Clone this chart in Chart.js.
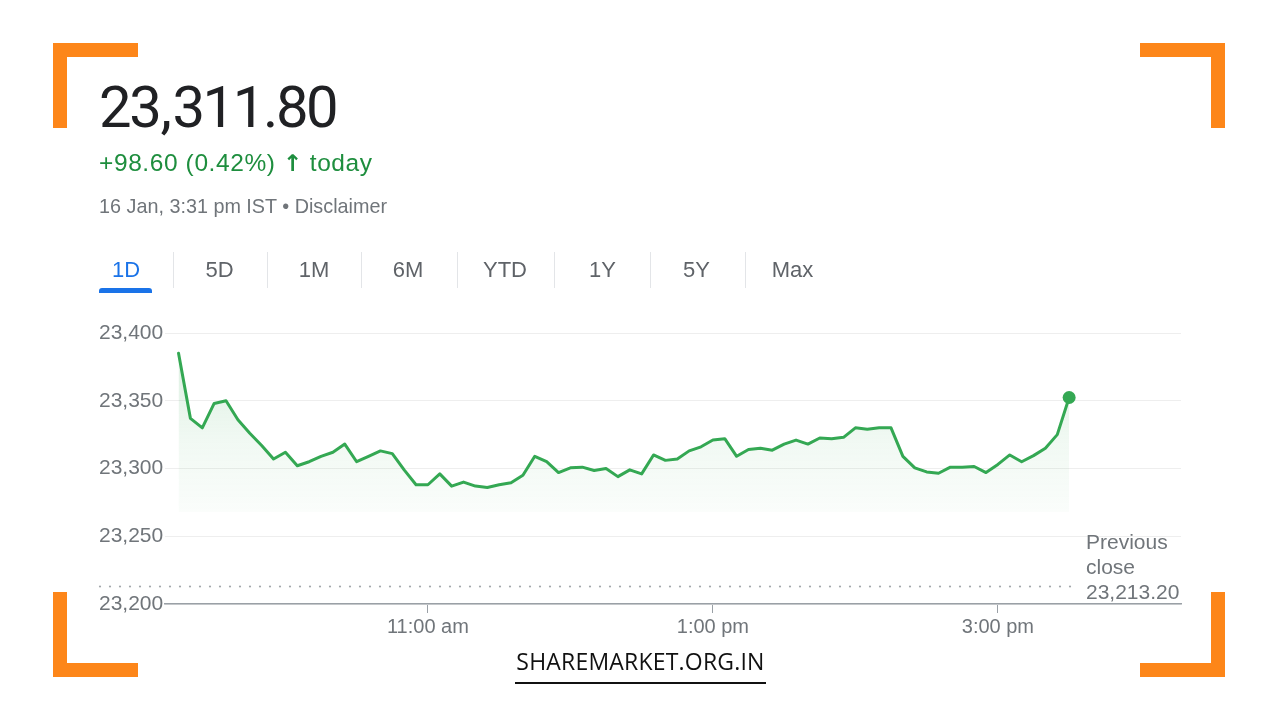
<!DOCTYPE html>
<html>
<head>
<meta charset="utf-8">
<script src="https://cdn.jsdelivr.net/npm/chart.js@4.4.1/dist/chart.umd.min.js"></script>
<style>
  html, body { margin:0; padding:0; background:#ffffff; }
  body { width:1280px; height:720px; position:relative; overflow:hidden; font-family:"Liberation Sans", Arial, sans-serif; }
  #chart { position:absolute; left:0; top:0; width:1280px; height:720px; }
  .t { position:absolute; white-space:nowrap; line-height:1; }
  .br { position:absolute; background:#fd8619; }
  .tab { position:absolute; width:80px; text-align:center; font-size:22px; color:#5f6368; line-height:1; top:259px; }
  .sep { position:absolute; top:252px; width:1px; height:36px; background:#e3e5e8; }
</style>
</head>
<body>
<canvas id="chart" width="1280" height="720"></canvas>

<!-- orange corner brackets -->
<div class="br" style="left:53px;top:43px;width:85px;height:14px"></div>
<div class="br" style="left:53px;top:43px;width:14px;height:85px"></div>
<div class="br" style="left:1140px;top:43px;width:85px;height:14px"></div>
<div class="br" style="left:1211px;top:43px;width:14px;height:85px"></div>
<div class="br" style="left:53px;top:592px;width:14px;height:85px"></div>
<div class="br" style="left:53px;top:663px;width:85px;height:14px"></div>
<div class="br" style="left:1211px;top:592px;width:14px;height:85px"></div>
<div class="br" style="left:1140px;top:663px;width:85px;height:14px"></div>

<!-- header -->
<div class="t" id="price" style="left:99px;top:78px;font-family:Roboto, sans-serif;font-size:58px;letter-spacing:-2.4px;color:#202124"></div>
<div class="t" id="change" style="left:99px;top:151px;font-size:24.5px;letter-spacing:0.6px;color:#1e8e3e"></div>
<div class="t" id="stamp" style="left:99px;top:197px;font-size:19.8px;color:#70757a"></div>

<!-- range tabs -->
<div id="tabs"></div>
<div style="position:absolute;left:99px;top:288px;width:53px;height:5px;background:#1a73e8;border-radius:3px 3px 0 0"></div>

<!-- previous close -->
<div class="t" id="prev" style="left:1086px;top:529px;font-size:21px;line-height:25px;color:#70757a"></div>

<!-- watermark -->
<div class="t" id="wm" style="left:440px;width:401px;text-align:center;top:650px;font-family:'Open Sans', sans-serif;font-size:23px;letter-spacing:0.2px;color:#111"></div>
<div style="position:absolute;left:515px;top:682px;width:251px;height:2px;background:#111"></div>

<script>
// ---------- data ----------
const HEADER_PRICE = "23,311.80";
const HEADER_CHANGE = "+98.60 (0.42%)";
const HEADER_ARROW = "\u2191";
const HEADER_TODAY = "today";
const HEADER_STAMP = "16 Jan, 3:31 pm IST \u2022 Disclaimer";
const TAB_LABELS = ["1D", "5D", "1M", "6M", "YTD", "1Y", "5Y", "Max"];
const TAB_CENTERS = [126, 219.5, 314, 408, 505, 602.5, 696.5, 792.5];
const PREV_CLOSE = 23213.20;
const PREV_CLOSE_TEXT = ["Previous", "close", "23,213.20"];
const WATERMARK = "SHAREMARKET.ORG.IN";

const TIMES = [
  "09:15","09:20","09:25","09:30","09:35","09:40","09:45","09:50","09:55",
  "10:00","10:05","10:10","10:15","10:20","10:25","10:30","10:35","10:40","10:45","10:50","10:55",
  "11:00","11:05","11:10","11:15","11:20","11:25","11:30","11:35","11:40","11:45","11:50","11:55",
  "12:00","12:05","12:10","12:15","12:20","12:25","12:30","12:35","12:40","12:45","12:50","12:55",
  "13:00","13:05","13:10","13:15","13:20","13:25","13:30","13:35","13:40","13:45","13:50","13:55",
  "14:00","14:05","14:10","14:15","14:20","14:25","14:30","14:35","14:40","14:45","14:50","14:55",
  "15:00","15:05","15:10","15:15","15:20","15:25","15:30"
];
const PRICES = [
  23385, 23337, 23330, 23348, 23350, 23336, 23326, 23317, 23307,
  23312, 23302, 23305, 23309, 23312, 23318, 23305, 23309, 23313, 23311, 23299, 23288,
  23288, 23296, 23287, 23290, 23287, 23286, 23288, 23289.5, 23295, 23309, 23305, 23297,
  23300.5, 23301, 23298.5, 23300, 23294, 23299, 23296, 23310, 23306, 23307, 23313, 23316,
  23321, 23322, 23309, 23314, 23315, 23313.5, 23318, 23321, 23318, 23322.5, 23322, 23323,
  23330, 23329, 23330, 23330, 23309, 23300.5, 23297.5, 23296.5, 23301, 23301, 23301.5, 23297,
  23303, 23310, 23305, 23309.5, 23315, 23325, 23352.4
];
const Y_MIN = 23200, Y_MAX = 23400, Y_STEP = 50;
const X_TICK_TIMES = ["11:00", "13:00", "15:00"];
const X_TICK_LABELS = ["11:00 am", "1:00 pm", "3:00 pm"];
const X_RANGE_TIMES = ["09:09.3", "16:17.1"];
const FILL_BASE = 23268;

// ---------- header text ----------
document.getElementById('price').innerHTML =
  HEADER_PRICE.replace(',', '<span style="margin:0 3px 0 1px">,</span>');
document.getElementById('change').innerHTML =
  HEADER_CHANGE + ' <span style="font-family:\'DejaVu Sans\';font-weight:bold;font-size:23px;letter-spacing:0">' + HEADER_ARROW + '</span> ' + HEADER_TODAY;
document.getElementById('stamp').textContent = HEADER_STAMP;
document.getElementById('prev').innerHTML = PREV_CLOSE_TEXT.join('<br>');
document.getElementById('wm').textContent = WATERMARK;

const tabs = document.getElementById('tabs');
TAB_LABELS.forEach((lab, i) => {
  const d = document.createElement('div');
  d.className = 'tab';
  d.style.left = (TAB_CENTERS[i] - 40) + 'px';
  if (i === 0) d.style.color = '#1a73e8';
  d.textContent = lab;
  tabs.appendChild(d);
  if (i > 0) {
    const s = document.createElement('div');
    s.className = 'sep';
    s.style.left = Math.round((TAB_CENTERS[i - 1] + TAB_CENTERS[i]) / 2) + 'px';
    tabs.appendChild(s);
  }
});

// ---------- chart ----------
const toMin = t => { const [h, m] = t.split(':'); return parseInt(h, 10) * 60 + parseFloat(m); };
const points = TIMES.map((t, i) => ({ x: toMin(t), y: PRICES[i] }));
const tickMins = X_TICK_TIMES.map(toMin);
const labelFor = v => { const k = tickMins.indexOf(v); return k >= 0 ? X_TICK_LABELS[k] : ''; };
const last = PRICES.length - 1;
const GREEN = '#34a853';
const AXIS_FONT = { family: "'Liberation Sans', Arial, sans-serif", size: 21 };

const prevClosePlugin = {
  id: 'prevClose',
  beforeDatasetsDraw(chart) {
    const c = chart.ctx;
    const y = Math.round(chart.scales.y.getPixelForValue(PREV_CLOSE)) + 0.5;
    c.save();
    c.fillStyle = '#a3a7ab';
    for (let x = 100; x <= 1078; x += 10) {
      c.beginPath();
      c.arc(x, y, 1.1, 0, Math.PI * 2);
      c.fill();
    }
    c.restore();
  }
};

new Chart(document.getElementById('chart'), {
  type: 'line',
  data: {
    datasets: [{
      data: points,
      borderColor: GREEN,
      borderWidth: 3,
      tension: 0,
      borderJoinStyle: 'round',
      borderCapStyle: 'round',
      pointRadius: ctx => ctx.dataIndex === last ? 6.5 : 0,
      pointBackgroundColor: GREEN,
      pointBorderWidth: 0,
      fill: { value: FILL_BASE },
      backgroundColor: (ctx) => {
        const chart = ctx.chart;
        const { chartArea, scales } = chart;
        if (!chartArea || !scales.y) return 'rgba(52,168,83,0.08)';
        const top = scales.y.getPixelForValue(Math.max(...PRICES));
        const bot = scales.y.getPixelForValue(FILL_BASE);
        const g = chart.ctx.createLinearGradient(0, top, 0, bot);
        g.addColorStop(0, 'rgba(52,168,83,0.17)');
        g.addColorStop(0.55, 'rgba(52,168,83,0.07)');
        g.addColorStop(1, 'rgba(52,168,83,0.025)');
        return g;
      }
    }]
  },
  options: {
    responsive: false,
    animation: false,
    events: [],
    layout: { padding: { left: 99, right: 99, top: 333, bottom: 76 } },
    plugins: { legend: { display: false }, tooltip: { enabled: false } },
    scales: {
      x: {
        type: 'linear',
        min: toMin(X_RANGE_TIMES[0]),
        max: toMin(X_RANGE_TIMES[1]),
        afterFit: s => { s.height = 40; },
        afterBuildTicks: s => { s.ticks = tickMins.map(v => ({ value: v })); },
        grid: { drawOnChartArea: false, drawTicks: true, tickLength: 9, color: '#9aa0a6', lineWidth: 1 },
        border: { display: true, color: '#9aa0a6', width: 1.5 },
        ticks: {
          autoSkip: false, maxRotation: 0, padding: 2,
          color: '#70757a', font: { family: AXIS_FONT.family, size: 20 },
          callback: v => labelFor(v)
        }
      },
      y: {
        min: Y_MIN, max: Y_MAX,
        afterFit: s => { s.width = 66; },
        grid: { drawTicks: false, color: '#eeeeee', lineWidth: 1 },
        border: { display: false },
        ticks: {
          stepSize: Y_STEP, crossAlign: 'far', padding: 0,
          color: '#70757a', font: AXIS_FONT,
          callback: v => Number(v).toLocaleString('en-US')
        }
      }
    }
  },
  plugins: [prevClosePlugin]
});
</script>
</body>
</html>
